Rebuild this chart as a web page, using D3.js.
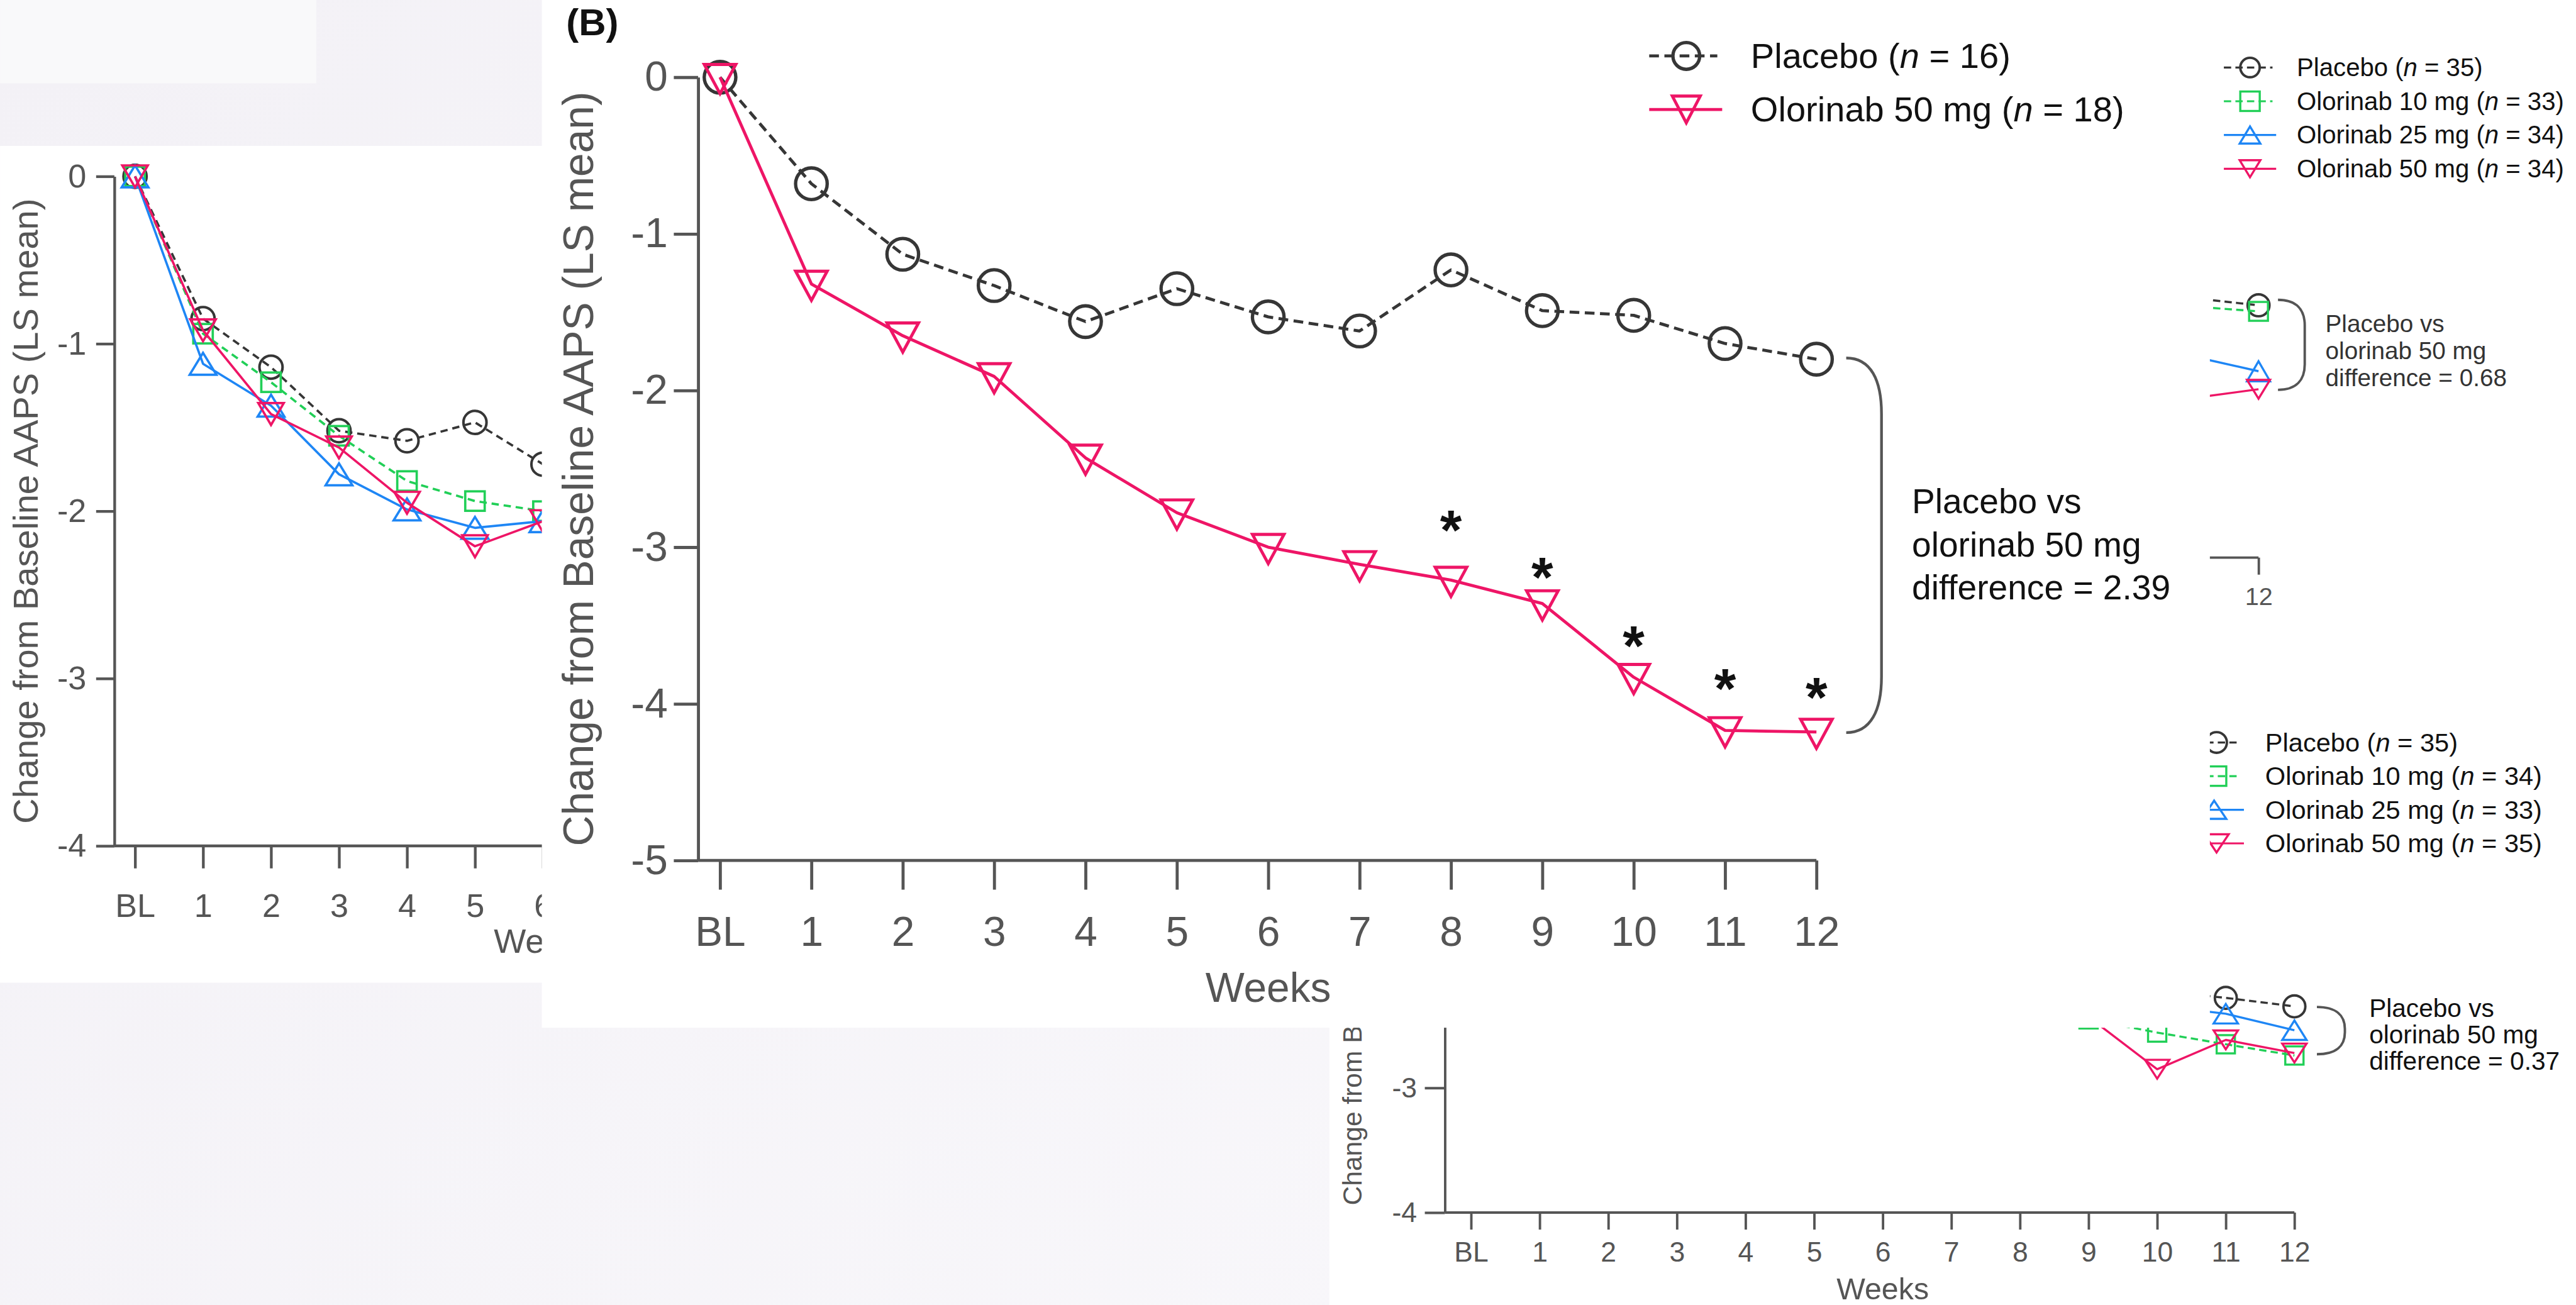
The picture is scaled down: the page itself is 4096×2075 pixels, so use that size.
<!DOCTYPE html>
<html>
<head>
<meta charset="utf-8">
<script src="https://cdn.jsdelivr.net/npm/d3@7"></script>
<style>
html, body { margin: 0; padding: 0; overflow: hidden; background: #f4f3f7; }
</style>
</head>
<body>
<div id="chart"></div>
<script>
// ---- data ----
var weeks = ["BL", "1", "2", "3", "4", "5", "6", "7", "8", "9", "10", "11", "12"];
var groups = ["Placebo", "Olorinab 10 mg", "Olorinab 25 mg", "Olorinab 50 mg"];

// panel B (weeks BL..12)
var bPlacebo = [0, -0.68, -1.13, -1.33, -1.56, -1.35, -1.53, -1.62, -1.23, -1.49, -1.52, -1.70, -1.80];
var bOlo50   = [0, -1.32, -1.65, -1.91, -2.43, -2.78, -3.00, -3.11, -3.21, -3.36, -3.83, -4.17, -4.18];
var bStars   = [[8, -2.81], [9, -3.11], [10, -3.55], [11, -3.82], [12, -3.88]];
var bN       = [16, 18];
var bDiff    = "2.39";

// panel on the left (weeks BL..6 visible)
var aPlacebo = [0, -0.85, -1.14, -1.52, -1.58, -1.47, -1.72];
var aOlo10   = [0, -0.94, -1.23, -1.55, -1.82, -1.94, -2.00];
var aOlo25   = [0, -1.12, -1.37, -1.78, -1.99, -2.10, -2.06];
var aOlo50   = [0, -0.92, -1.42, -1.62, -1.95, -2.21, -2.06];

// panel peeking out top right (weeks 11, 12)
var cPlacebo = [-1.895, -1.956];
var cOlo10   = [-1.964, -2.005];
var cOlo25   = [-2.365, -2.49];
var cOlo50   = [-2.71, -2.636];
var cN       = [35, 33, 34, 34];
var cDiff    = "0.68";

// panel peeking out bottom right (start week given with each)
var dPlacebo = [-2.22, -2.278, -2.346];        // weeks 10-12
var dOlo10   = [-2.45, -2.556, -2.65, -2.74];  // weeks 9-12
var dOlo25   = [-2.34, -2.405, -2.537];        // weeks 10-12
var dOlo50   = [-2.43, -2.85, -2.615, -2.72];  // weeks 9-12
var dN       = [35, 34, 33, 35];
var dDiff    = "0.37";

// ---- look ----
var FONT = "'Liberation Sans', Arial, Helvetica, sans-serif";
var GREY = "#555555", DARK = "#363636", GREEN = "#21cf57", BLUE = "#1e86f5", PINK = "#ee1566";

var svg = d3.select("#chart").append("svg")
	.attr("width", 4096).attr("height", 2075)
	.attr("viewBox", "0 0 4236 2146")
	.attr("font-family", FONT);

var defs = svg.append("defs");
var grad = defs.append("linearGradient").attr("id", "bg").attr("x1", 0).attr("y1", 0).attr("x2", 1).attr("y2", 0.4);
grad.append("stop").attr("offset", 0).attr("stop-color", "#f3f1f6");
grad.append("stop").attr("offset", 1).attr("stop-color", "#f9f8fb");

svg.append("rect").attr("width", 4236).attr("height", 2146).attr("fill", "url(#bg)");
svg.append("rect").attr("width", 520).attr("height", 137).attr("fill", "#f9f9fa");

// ---- helpers ----
function tri(shape, x, y, w, h) {
	var t = shape === "up" ? -1 : 1;
	return "M" + x + "," + (y + t * h / 2) + "L" + (x - w / 2) + "," + (y - t * h / 2) + "L" + (x + w / 2) + "," + (y - t * h / 2) + "Z";
}

function drawMarker(g, shape, x, y, st) {
	var m;
	if (shape === "circle") m = g.append("circle").attr("cx", x).attr("cy", y).attr("r", st.r);
	else if (shape === "square") m = g.append("rect").attr("x", x - st.s / 2).attr("y", y - st.s / 2).attr("width", st.s).attr("height", st.s);
	else m = g.append("path").attr("d", tri(shape, x, y + (st.dy || 0), st.w, st.h));
	m.attr("fill", "none").attr("stroke", st.color).attr("stroke-width", st.msw);
}

function drawSeries(g, xs, ys, start, vals, st) {
	var pts = vals.map(function(v, i) { return [xs(start + i), ys(v)]; });
	g.append("path").attr("d", d3.line()(pts))
		.attr("fill", "none").attr("stroke", st.color).attr("stroke-width", st.lw)
		.attr("stroke-dasharray", st.dash || null).attr("stroke-linejoin", "round");
	pts.forEach(function(p) { drawMarker(g, st.shape, p[0], p[1], st); });
}

function legendItem(g, x0, x1, xm, y, st, tx, name, n, fs) {
	g.append("line").attr("x1", x0).attr("x2", x1).attr("y1", y).attr("y2", y)
		.attr("stroke", st.color).attr("stroke-width", st.lw).attr("stroke-dasharray", st.dash || null);
	drawMarker(g, st.shape, xm, y, st);
	var t = g.append("text").attr("x", tx).attr("y", y).attr("dy", "0.34em")
		.attr("font-size", fs).attr("fill", "#111");
	t.append("tspan").text(name + " (");
	t.append("tspan").attr("font-style", "italic").text("n");
	t.append("tspan").text(" = " + n + ")");
}

function bracket(g, x, yTop, yBot, w, r, sw) {
	var p = d3.path();
	p.moveTo(x, yTop);
	p.bezierCurveTo(x + w * 0.7, yTop, x + w, yTop + r * 0.4, x + w, yTop + r);
	p.lineTo(x + w, yBot - r);
	p.bezierCurveTo(x + w, yBot - r * 0.4, x + w * 0.7, yBot, x, yBot);
	g.append("path").attr("d", p.toString()).attr("fill", "none").attr("stroke", GREY).attr("stroke-width", sw);
}

function textLines(g, x, y0, step, lines, fs, color) {
	lines.forEach(function(s, i) {
		g.append("text").attr("x", x).attr("y", y0 + i * step).attr("font-size", fs).attr("fill", color).text(s);
	});
}

function styleAxis(sel, fs, sw) {
	sel.attr("font-family", FONT).attr("font-size", fs);
	sel.selectAll("line").attr("stroke", GREY).attr("stroke-width", sw);
	sel.selectAll("path").attr("stroke", GREY).attr("stroke-width", sw);
	sel.selectAll("text").attr("fill", GREY);
}

function diffLines(d) { return ["Placebo vs", "olorinab 50 mg", "difference = " + d]; }

// ---- top right panel (mostly hidden under B) ----
var gC = svg.append("g");
gC.append("rect").attr("x", 2186).attr("y", 0).attr("width", 2050).attr("height", 1150).attr("fill", "#fff");
var xC = d3.scaleLinear().domain([0, 12]).range([3714 - 12 * 112.6, 3714]);
var yC = d3.scaleLinear().domain([-4, 0]).range([917, 105]);
var cSt = [
	{ color: DARK, lw: 3.5, dash: "12,7", shape: "circle", r: 18, msw: 4 },
	{ color: GREEN, lw: 3.5, dash: "12,7", shape: "square", s: 31, msw: 3.5 },
	{ color: BLUE, lw: 3.5, shape: "up", w: 38, h: 33, msw: 3.5 },
	{ color: PINK, lw: 3.5, shape: "down", w: 38, h: 31, msw: 3.5 }
];
// only the last tick shows past panel B
var cx = gC.append("g").attr("transform", "translate(0,917)")
	.call(d3.axisBottom(xC).tickValues([12]).tickFormat(function(i) { return weeks[i]; })
		.tickSize(28).tickPadding(21));
cx.select(".domain").remove();
styleAxis(cx, 41, 4);
gC.append("line").attr("x1", 3560).attr("x2", xC(12)).attr("y1", 917).attr("y2", 917).attr("stroke", GREY).attr("stroke-width", 4);
[cPlacebo, cOlo10, cOlo25, cOlo50].forEach(function(v, i) { drawSeries(gC, xC, yC, 11, v, cSt[i]); });
bracket(gC, xC(12) + 32, yC(cPlacebo[1]) - 9, yC(cOlo50[1]) + 1, 44, 42, 4);
textLines(gC, 3824, 546, 44.5, diffLines(cDiff), 40, "#333");
groups.forEach(function(nm, i) {
	var st = cSt[i], y = 111 + i * 55.5;
	legendItem(gC, 3657, st.dash ? 3737 : 3743, 3700,
		y, Object.assign({}, st, { r: 16, s: 32, w: 34, h: 28, lw: 3.3 }), 3777, nm, cN[i], 41.5);
});

// ---- bottom right panel (mostly hidden under B) ----
var gD = svg.append("g");
gD.append("rect").attr("x", 2186).attr("y", 1150).attr("width", 2050).attr("height", 996).attr("fill", "#fff");
var xD = d3.scaleLinear().domain([0, 12]).range([2419, 3773]);
var yD = d3.scaleLinear().domain([-4, -2]).range([1994, 1584]);
var dSt = [
	{ color: DARK, lw: 3.5, dash: "12,7", shape: "circle", r: 18, msw: 4 },
	{ color: GREEN, lw: 3.5, dash: "12,7", shape: "square", s: 30, msw: 3.5 },
	{ color: BLUE, lw: 3.5, shape: "up", w: 40, h: 32, msw: 3.5 },
	{ color: PINK, lw: 3.5, shape: "down", w: 40, h: 31, msw: 3.5 }
];
var dy = gD.append("g").attr("transform", "translate(2376,0)")
	.call(d3.axisLeft(yD).tickValues([-3, -4]).tickFormat(function(d) { return String(d); })
		.tickSize(33).tickPadding(13).tickSizeOuter(0));
styleAxis(dy, 46, 4);
var dx = gD.append("g").attr("transform", "translate(0,1994)")
	.call(d3.axisBottom(xD).tickValues(d3.range(13)).tickFormat(function(i) { return weeks[i]; })
		.tickSize(28).tickPadding(20));
dx.select(".domain").remove();
styleAxis(dx, 46, 4);
gD.append("line").attr("x1", 2376).attr("x2", xD(12)).attr("y1", 1994).attr("y2", 1994).attr("stroke", GREY).attr("stroke-width", 4);
gD.append("text").attr("x", xD(6)).attr("y", 2137).attr("text-anchor", "middle")
	.attr("font-size", 50).attr("fill", GREY).text("Weeks");
// the rest of this title is under panel B
gD.append("text").attr("transform", "translate(2239,1982) rotate(-90)")
	.attr("font-size", 44).attr("fill", GREY).text("Change from B");
drawSeries(gD, xD, yD, 10, dPlacebo, dSt[0]);
drawSeries(gD, xD, yD, 9, dOlo10, dSt[1]);
drawSeries(gD, xD, yD, 10, dOlo25, dSt[2]);
drawSeries(gD, xD, yD, 9, dOlo50, dSt[3]);
bracket(gD, xD(12) + 37, yD(dPlacebo[2]) + 1, yD(dOlo50[3]) + 2, 46, 36, 4);
textLines(gD, 3896, 1672, 43.5, diffLines(dDiff), 42, "#111");
groups.forEach(function(nm, i) {
	var st = dSt[i], y = 1221 + i * 55.3;
	legendItem(gD, 3590, st.dash ? 3683 : 3690, i === 2 ? 3641 : 3645,
		y, Object.assign({}, st, { r: 17, s: 32, w: 40, h: 30, lw: 3.3 }), 3725, nm, dN[i], 43);
});

// ---- left panel ----
var gA = svg.append("g");
gA.append("rect").attr("x", 0).attr("y", 240).attr("width", 1700).attr("height", 1376).attr("fill", "#fff");
var xA = d3.scaleLinear().domain([0, 12]).range([222, 222 + 12 * 111.8]);
var yA = d3.scaleLinear().domain([-4, 0]).range([1391, 290]);
var aSt = [
	{ color: DARK, lw: 3.8, dash: "12,8", shape: "circle", r: 19, msw: 4.2 },
	{ color: GREEN, lw: 3.8, dash: "12,8", shape: "square", s: 32, msw: 3.8 },
	{ color: BLUE, lw: 3.8, shape: "up", w: 44, h: 36, msw: 3.8 },
	{ color: PINK, lw: 3.8, shape: "down", w: 42, h: 36, msw: 3.8 }
];
var ay = gA.append("g").attr("transform", "translate(188,0)")
	.call(d3.axisLeft(yA).tickValues([0, -1, -2, -3, -4]).tickFormat(function(d) { return String(d); })
		.tickSize(30).tickPadding(16).tickSizeOuter(0));
styleAxis(ay, 54, 4.5);
var ax = gA.append("g").attr("transform", "translate(0,1391)")
	.call(d3.axisBottom(xA).tickValues(d3.range(7)).tickFormat(function(i) { return weeks[i]; })
		.tickSize(37).tickPadding(42));
ax.select(".domain").remove();
styleAxis(ax, 54, 4.5);
gA.append("line").attr("x1", 188).attr("x2", 1000).attr("y1", 1391).attr("y2", 1391).attr("stroke", GREY).attr("stroke-width", 4.5);
gA.append("text").attr("x", 897).attr("y", 1567).attr("text-anchor", "middle")
	.attr("font-size", 56).attr("fill", GREY).text("Weeks");
gA.append("text").attr("transform", "translate(62," + ((yA(0) + yA(-4)) / 2) + ") rotate(-90)")
	.attr("text-anchor", "middle").attr("font-size", 58).attr("fill", GREY)
	.text("Change from Baseline AAPS (LS mean)");
[aPlacebo, aOlo10, aOlo25, aOlo50].forEach(function(v, i) { drawSeries(gA, xA, yA, 0, v, aSt[i]); });

// ---- panel B (on top) ----
var gB = svg.append("g");
gB.append("rect").attr("x", 891).attr("y", 0).attr("width", 3634 - 891).attr("height", 1690).attr("fill", "#fff");
var xB = d3.scaleLinear().domain([0, 12]).range([1184, 2987]);
var yB = d3.scaleLinear().domain([-5, 0]).range([1415, 127]);
var bSt = [
	{ color: DARK, lw: 5, dash: "16,9", shape: "circle", r: 26, msw: 5.5 },
	{ color: PINK, lw: 5, shape: "down", w: 52, h: 48, dy: 3, msw: 5 }
];
var by = gB.append("g").attr("transform", "translate(1148,0)")
	.call(d3.axisLeft(yB).tickValues([0, -1, -2, -3, -4, -5]).tickFormat(function(d) { return String(d); })
		.tickSize(40).tickPadding(10).tickSizeOuter(0));
styleAxis(by, 68, 5);
var bx = gB.append("g").attr("transform", "translate(0,1415)")
	.call(d3.axisBottom(xB).tickValues(d3.range(13)).tickFormat(function(i) { return weeks[i]; })
		.tickSize(48).tickPadding(44));
bx.select(".domain").remove();
styleAxis(bx, 68, 5);
gB.append("line").attr("x1", 1148).attr("x2", xB(12)).attr("y1", 1415).attr("y2", 1415).attr("stroke", GREY).attr("stroke-width", 5);
gB.append("text").attr("x", (xB(0) + xB(12)) / 2).attr("y", 1648).attr("text-anchor", "middle")
	.attr("font-size", 68).attr("fill", GREY).text("Weeks");
gB.append("text").attr("transform", "translate(975," + ((yB(0) + yB(-5)) / 2) + ") rotate(-90)")
	.attr("text-anchor", "middle").attr("font-size", 70).attr("fill", GREY)
	.text("Change from Baseline AAPS (LS mean)");
gB.append("text").attr("x", 931).attr("y", 58).attr("font-size", 62).attr("font-weight", "bold")
	.attr("fill", "#111").text("(B)");

drawSeries(gB, xB, yB, 0, bPlacebo, bSt[0]);
drawSeries(gB, xB, yB, 0, bOlo50, bSt[1]);

gB.selectAll("text.star").data(bStars).enter().append("text").attr("class", "star")
	.attr("x", function(d) { return xB(d[0]); })
	.attr("y", function(d) { return yB(d[1]) + 52; })
	.attr("text-anchor", "middle").attr("font-size", 92).attr("font-weight", "bold")
	.attr("fill", "#111").text("*");

bracket(gB, xB(12) + 49, yB(bPlacebo[12]) - 2, yB(bOlo50[12]) + 1, 58, 92, 4.5);
textLines(gB, 3144, 844, 71, diffLines(bDiff), 57, "#111");

legendItem(gB, 2712, 2824, 2773, 92, Object.assign({}, bSt[0], { r: 22 }), 2879, groups[0], bN[0], 58);
legendItem(gB, 2712, 2832, 2773, 180, Object.assign({}, bSt[1], { w: 46, h: 44, dy: 0 }), 2879, groups[3], bN[1], 58);
</script>
</body>
</html>
